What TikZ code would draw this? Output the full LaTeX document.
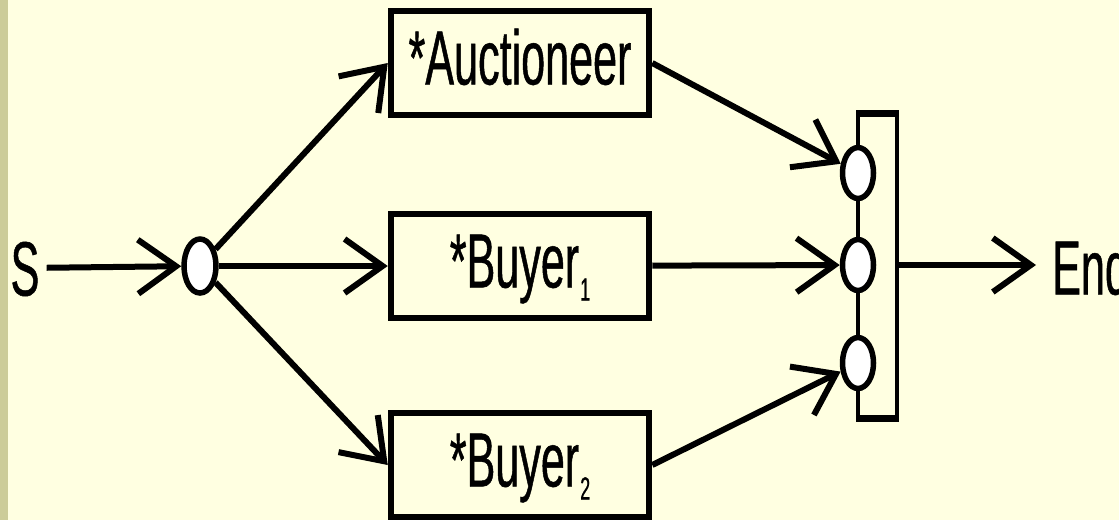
\documentclass[tikz,border=0pt]{standalone}
\usepackage{fontspec}
\newfontfamily\nar[FakeStretch=0.56,FakeBold=0.6]{Liberation Sans}
\usetikzlibrary{arrows.meta,shapes.geometric}
\definecolor{bgyellow}{HTML}{FFFFE1}
\definecolor{stripcol}{HTML}{CCCC99}
\tikzset{
  big/.style={font=\nar\fontsize{77}{80}\selectfont},
  blockbox/.style={draw=black, line width=6.5pt, fill=bgyellow, minimum width=258pt, minimum height=104pt, inner sep=0pt, text height=55pt, text depth=12pt, big},
  joint/.style={ellipse, draw=black, fill=white, line width=5.5pt, minimum width=31pt, minimum height=51pt, inner sep=0pt},
  arr/.style={line width=6pt, -{Straight Barb[length=38pt,width=54pt]}},
}
\newcommand{\subd}[1]{\kern1pt\lower13pt\hbox{\fontsize{32}{32}\selectfont #1}}
\begin{document}
\begin{tikzpicture}[x=1pt,y=-1pt]
\fill[bgyellow] (0,0) rectangle (1119,520);
\useasboundingbox (0,0) rectangle (1119,520);
\fill[stripcol] (0,0) rectangle (8,520);
% nodes
\node[big, inner sep=7pt, text height=55pt, text depth=0pt] (S) at (25,268) {S};
\node[joint, minimum width=32pt, minimum height=54pt] (src) at (200,266) {};
\node[blockbox] (auc) at (520,63) {*Auctioneer};
\node[blockbox] (b1) at (520,266) {*Buyer\subd{1}};
\node[blockbox] (b2) at (520,465) {*Buyer\subd{2}};
% bracket
\draw[line width=4.5pt] (858,113) -- (858,418);
\draw[line width=4.5pt] (897,110) -- (897,420);
\draw[line width=7pt] (856,113) -- (899.25,113);
\draw[line width=7pt] (856,418) -- (899.25,418);
\node[joint] (c1) at (858,173) {};
\node[joint] (c2) at (858,265) {};
\node[joint] (c3) at (858,363) {};
\coordinate (bout) at (899,265);
\coordinate (endtip) at (1036,265);
\node[big, anchor=west, inner sep=0pt, text height=55pt, text depth=0pt] (E) at (1052,267) {End};
% connectors
\draw[arr] (S) -- (src);
\draw[arr] (src) -- (auc.west);
\draw[arr] (src) -- (b1);
\draw[arr] (src) -- (b2.west);
\draw[arr] (auc.east) -- (c1);
\draw[arr] (b1) -- (c2);
\draw[arr] (b2.east) -- (c3);
\draw[arr] (bout) -- (endtip);
\end{tikzpicture}
\end{document}
